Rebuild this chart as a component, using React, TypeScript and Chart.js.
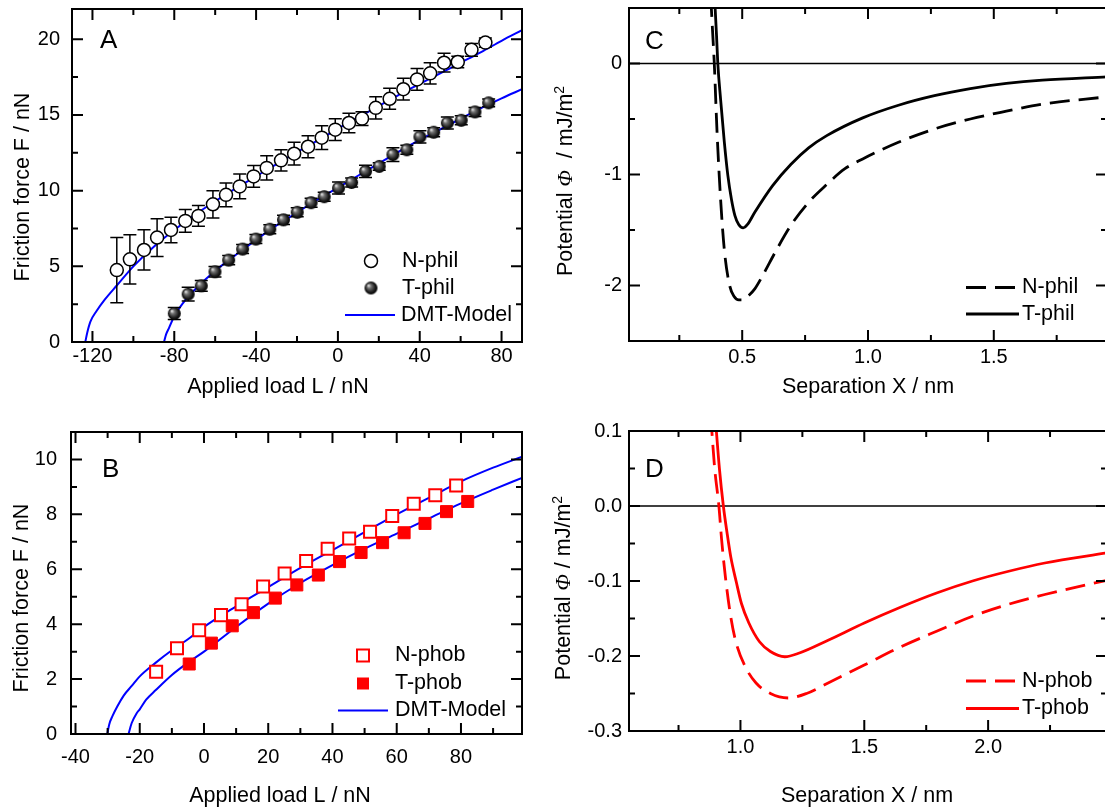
import React, { useEffect, useRef } from "react";
import { Chart, registerables } from "chart.js";

Chart.register(...registerables);

const SANS = "'Liberation Sans', Arial, Helvetica, sans-serif";
const SERIF = "'Liberation Serif', 'Times New Roman', serif";

// ---------------- Panel A (hydrophilic friction) ----------------
const aNphilLoad = [-108.1, -101.7, -94.8, -88.4, -81.6, -74.6, -68.2, -61.1, -54.7, -48.0, -41.2, -34.8, -27.8, -21.4, -14.6, -7.9, -1.3, 5.4, 11.8, 18.5, 25.3, 32.0, 38.7, 45.1, 51.9, 58.6, 65.3, 72.1];
const aNphilFriction = [4.75, 5.46, 6.08, 6.9, 7.4, 8.0, 8.33, 9.1, 9.72, 10.28, 10.94, 11.5, 12.0, 12.44, 12.9, 13.5, 14.03, 14.47, 14.76, 15.47, 16.07, 16.7, 17.35, 17.75, 18.45, 18.5, 19.3, 19.78];
const aNphilError = [2.15, 1.62, 1.33, 1.25, 0.85, 0.75, 0.68, 0.9, 0.78, 0.82, 0.72, 0.8, 0.7, 0.75, 0.72, 0.78, 0.72, 0.65, 0.45, 0.73, 0.7, 0.72, 0.72, 0.7, 0.62, 0.38, 0.42, 0.3];

const aTphilLoad = [-80.0, -73.2, -66.8, -60.1, -53.4, -46.6, -40.1, -33.3, -26.6, -19.9, -13.1, -6.7, 0.3, 6.7, 13.5, 20.2, 26.9, 33.7, 40.1, 46.8, 53.5, 60.3, 67.0, 73.7];
const aTphilFriction = [1.88, 3.16, 3.71, 4.64, 5.41, 6.14, 6.8, 7.45, 8.07, 8.57, 9.2, 9.6, 10.17, 10.54, 11.27, 11.6, 12.38, 12.7, 13.55, 13.86, 14.47, 14.65, 15.2, 15.8];
const aTphilError = [0.4, 0.45, 0.35, 0.35, 0.3, 0.3, 0.3, 0.3, 0.3, 0.3, 0.3, 0.3, 0.4, 0.3, 0.4, 0.25, 0.45, 0.3, 0.4, 0.3, 0.4, 0.3, 0.3, 0.25];

const aDmtNLoad = [-123.5, -122.5, -121, -118, -114, -108, -100, -90, -80, -70, -60, -50, -40, -30, -20, -10, 0, 10, 20, 30, 40, 50, 60, 70, 80, 90];
const aDmtNFriction = [0, 0.65, 1.35, 2.05, 2.8, 3.75, 5.0, 6.3, 7.4, 8.4, 9.3, 10.15, 10.95, 11.75, 12.55, 13.3, 14.1, 14.85, 15.6, 16.35, 17.05, 17.75, 18.45, 19.15, 19.9, 20.6];
const aDmtTLoad = [-85, -84, -82.5, -80, -75, -70, -60, -50, -40, -30, -20, -10, 0, 10, 20, 30, 40, 50, 60, 70, 80, 90];
const aDmtTFriction = [0, 0.5, 0.95, 1.7, 2.7, 3.45, 4.7, 5.75, 6.75, 7.7, 8.55, 9.4, 10.2, 11.0, 11.8, 12.6, 13.35, 14.05, 14.75, 15.45, 16.1, 16.7];

const aXTicks = [-120, -80, -40, 0, 40, 80];
const aYTicks = [0, 5, 10, 15, 20];

// ---------------- Panel B (hydrophobic friction) ----------------
const bNphobLoad = [-14.9, -8.4, -1.5, 5.3, 11.7, 18.4, 25.1, 31.8, 38.5, 45.2, 51.7, 58.6, 65.3, 72.0, 78.5];
const bNphobFriction = [2.27, 3.12, 3.78, 4.33, 4.73, 5.37, 5.85, 6.3, 6.75, 7.12, 7.37, 7.94, 8.39, 8.7, 9.05];
const bTphobLoad = [-4.6, 2.3, 8.8, 15.4, 22.2, 28.9, 35.6, 42.2, 48.9, 55.6, 62.3, 68.8, 75.5, 82.1];
const bTphobFriction = [2.55, 3.31, 3.94, 4.42, 4.95, 5.43, 5.79, 6.28, 6.61, 6.97, 7.33, 7.67, 8.1, 8.47];

const bDmtNLoad = [-30.1, -29.5, -28.5, -27, -25, -22.5, -20, -15, -10, -5, 0, 10, 20, 30, 40, 50, 60, 70, 80, 90, 99];
const bDmtNFriction = [0, 0.35, 0.65, 1.0, 1.4, 1.75, 2.1, 2.6, 3.05, 3.45, 3.9, 4.65, 5.35, 6.05, 6.7, 7.35, 8.0, 8.6, 9.2, 9.7, 10.1];
const bDmtTLoad = [-23.5, -22.5, -21, -20, -18, -15, -10, -5, 0, 10, 20, 30, 40, 50, 60, 70, 80, 90, 99];
const bDmtTFriction = [0, 0.4, 0.75, 0.9, 1.25, 1.6, 2.15, 2.6, 3.0, 3.9, 4.75, 5.5, 6.15, 6.75, 7.3, 7.85, 8.4, 8.9, 9.33];

const bXTicks = [-40, -20, 0, 20, 40, 60, 80];
const bYTicks = [0, 2, 4, 6, 8, 10];

// ---------------- Panel C (hydrophilic potential) ----------------
const cNphilSep = [0.375, 0.382, 0.389, 0.4, 0.414, 0.429, 0.45, 0.468, 0.486, 0.503, 0.521, 0.55, 0.579, 0.636, 0.693, 0.764, 0.836, 0.907, 0.979, 1.121, 1.264, 1.407, 1.55, 1.693, 1.95];
const cNphilPot = [0.6, 0.3, 0, -0.62, -1.22, -1.68, -2.0, -2.1, -2.13, -2.13, -2.1, -2.03, -1.92, -1.68, -1.46, -1.25, -1.09, -0.95, -0.86, -0.71, -0.59, -0.5, -0.43, -0.367, -0.3];
const cTphilSep = [0.39, 0.398, 0.403, 0.414, 0.429, 0.443, 0.457, 0.471, 0.486, 0.504, 0.521, 0.55, 0.621, 0.693, 0.764, 0.836, 0.979, 1.121, 1.264, 1.407, 1.55, 1.693, 1.95];
const cTphilPot = [0.6, 0.25, 0, -0.32, -0.71, -1.01, -1.22, -1.37, -1.45, -1.48, -1.45, -1.34, -1.1, -0.91, -0.76, -0.65, -0.49, -0.376, -0.29, -0.226, -0.18, -0.15, -0.12];

const cXTicks = [0.5, 1.0, 1.5];
const cYTicks = [-2, -1, 0];

// ---------------- Panel D (hydrophobic potential) ----------------
const dNphobSep = [0.88, 0.896, 0.913, 0.924, 0.939, 0.961, 0.983, 1.019, 1.063, 1.121, 1.194, 1.267, 1.354, 1.5, 1.646, 1.792, 1.937, 2.083, 2.229, 2.48];
const dNphobPot = [0.12, 0.05, 0, -0.045, -0.094, -0.148, -0.183, -0.214, -0.236, -0.25, -0.256, -0.25, -0.236, -0.212, -0.188, -0.167, -0.147, -0.131, -0.118, -0.099];
const dTphobSep = [0.898, 0.915, 0.931, 0.946, 0.961, 0.983, 1.004, 1.034, 1.077, 1.121, 1.179, 1.238, 1.354, 1.5, 1.646, 1.792, 1.937, 2.083, 2.229, 2.48];
const dTphobPot = [0.12, 0.05, 0, -0.036, -0.068, -0.101, -0.13, -0.156, -0.181, -0.194, -0.201, -0.196, -0.179, -0.156, -0.135, -0.116, -0.1, -0.087, -0.076, -0.0625];

const dXTicks = [1.0, 1.5, 2.0];
const dYTicks = [-0.3, -0.2, -0.1, 0, 0.1];

// ---------------- helpers ----------------
type Pt = { x: number; y: number };
const zip = (xs: number[], ys: number[]): Pt[] => xs.map((x, i) => ({ x, y: ys[i] }));
const intFmt = (v: number) => String(Math.round(v));
const oneFmt = (v: number) => v.toFixed(1);

const BLUE = "#0000ff";
const RED = "#ff0000";
const DASH = [20, 9];

function makeSphere(r: number): HTMLCanvasElement {
  const c = document.createElement("canvas");
  const s = Math.ceil(2 * r + 2);
  c.width = s;
  c.height = s;
  const g = c.getContext("2d")!;
  const cx = s / 2, cy = s / 2;
  const grad = g.createRadialGradient(cx - r * 0.4, cy - r * 0.4, r * 0.05, cx, cy, r);
  grad.addColorStop(0, "#e6e6e6");
  grad.addColorStop(0.3, "#707070");
  grad.addColorStop(0.75, "#1a1a1a");
  grad.addColorStop(1, "#000");
  g.fillStyle = grad;
  g.beginPath();
  g.arc(cx, cy, r, 0, Math.PI * 2);
  g.fill();
  return c;
}

type Seg = { text: string; font: string; dy?: number };
function drawRich(ctx: CanvasRenderingContext2D, segs: Seg[], cx: number, cy: number, rotate: boolean) {
  ctx.save();
  ctx.translate(cx, cy);
  if (rotate) ctx.rotate(-Math.PI / 2);
  ctx.textBaseline = "alphabetic";
  ctx.textAlign = "left";
  ctx.fillStyle = "#000";
  const widths = segs.map((s) => {
    ctx.font = s.font;
    return ctx.measureText(s.text).width;
  });
  const total = widths.reduce((a, b) => a + b, 0);
  let x = -total / 2;
  segs.forEach((s, i) => {
    ctx.font = s.font;
    ctx.fillText(s.text, x, s.dy || 0);
    x += widths[i];
  });
  ctx.restore();
}

type LegendItem = {
  kind: "circle" | "sphere" | "line" | "squareOpen" | "squareFill";
  x: number; x2?: number; y: number; tx: number; label: string;
  color?: string; width?: number; dash?: number[];
};

type Panel = {
  left: number; top: number; width: number; height: number;
  area: { l: number; t: number; r: number; b: number };
  xMin: number; xMax: number; xStep: number; xMinor: number; xTicks: number[];
  yMin: number; yMax: number; yStep: number; yMinor: number; yTicks: number[];
  xPad: number; yPad: number;
  xFmt: (v: number) => string; yFmt: (v: number) => string;
  letter: { text: string; x: number; y: number };
  xTitle: { segs: Seg[]; x: number; y: number };
  yTitle: { segs: Seg[]; x: number; y: number };
  legend: LegendItem[];
  datasets: (sphere: HTMLCanvasElement) => any[];
};

const T = (t: string): Seg[] => [{ text: t, font: `21.5px ${SANS}` }];

const PANELS: Panel[] = [
  {
    left: 0, top: 0, width: 540, height: 400,
    area: { l: 72, t: 9, r: 522, b: 342 },
    xMin: -130, xMax: 90, xStep: 40, xMinor: 20, xTicks: aXTicks,
    yMin: 0, yMax: 22, yStep: 5, yMinor: 2.5, yTicks: aYTicks,
    xPad: 2, yPad: 12, xFmt: intFmt, yFmt: intFmt,
    letter: { text: "A", x: 100, y: 48 },
    xTitle: { segs: T("Applied load L / nN"), x: 278, y: 393 },
    yTitle: { segs: T("Friction force F / nN"), x: 29.3, y: 187 },
    legend: [
      { kind: "circle", x: 371, y: 261, tx: 402, label: "N-phil" },
      { kind: "sphere", x: 371, y: 288, tx: 402, label: "T-phil" },
      { kind: "line", x: 345, x2: 395, y: 315, tx: 401, label: "DMT-Model", color: BLUE, width: 2 },
    ],
    datasets: (sphere) => [
      { label: "N-phil", data: zip(aNphilLoad, aNphilFriction), errors: aNphilError, showLine: false, pointStyle: "circle", pointRadius: 6.5, pointBorderWidth: 1.5, pointBorderColor: "#000", pointBackgroundColor: "#fff" },
      { label: "T-phil", data: zip(aTphilLoad, aTphilFriction), errors: aTphilError, showLine: false, pointStyle: sphere, pointRadius: 7 },
      { label: "DMT-Model N", data: zip(aDmtNLoad, aDmtNFriction), showLine: true, pointRadius: 0, borderColor: BLUE, borderWidth: 2, cubicInterpolationMode: "monotone" },
      { label: "DMT-Model T", data: zip(aDmtTLoad, aDmtTFriction), showLine: true, pointRadius: 0, borderColor: BLUE, borderWidth: 2, cubicInterpolationMode: "monotone" },
    ],
  },
  {
    left: 0, top: 400, width: 540, height: 408,
    area: { l: 71, t: 432, r: 522, b: 734 },
    xMin: -41.4, xMax: 99, xStep: 20, xMinor: 10, xTicks: bXTicks,
    yMin: 0, yMax: 11, yStep: 2, yMinor: 1, yTicks: bYTicks,
    xPad: 11, yPad: 14, xFmt: intFmt, yFmt: intFmt,
    letter: { text: "B", x: 102, y: 477 },
    xTitle: { segs: T("Applied load L / nN"), x: 280, y: 802 },
    yTitle: { segs: T("Friction force F / nN"), x: 27.6, y: 598 },
    legend: [
      { kind: "squareOpen", x: 363, y: 655.5, tx: 395, label: "N-phob" },
      { kind: "squareFill", x: 363, y: 683.5, tx: 395, label: "T-phob" },
      { kind: "line", x: 338, x2: 388, y: 710.5, tx: 395, label: "DMT-Model", color: BLUE, width: 2 },
    ],
    datasets: () => [
      { label: "N-phob", data: zip(bNphobLoad, bNphobFriction), showLine: false, pointStyle: "rect", pointRadius: 8.5, pointBorderWidth: 2, pointBorderColor: RED, pointBackgroundColor: "#fff" },
      { label: "T-phob", data: zip(bTphobLoad, bTphobFriction), showLine: false, pointStyle: "rect", pointRadius: 8.5, pointBorderWidth: 1, pointBorderColor: RED, pointBackgroundColor: RED },
      { label: "DMT-Model N", data: zip(bDmtNLoad, bDmtNFriction), showLine: true, pointRadius: 0, borderColor: BLUE, borderWidth: 2, cubicInterpolationMode: "monotone" },
      { label: "DMT-Model T", data: zip(bDmtTLoad, bDmtTFriction), showLine: true, pointRadius: 0, borderColor: BLUE, borderWidth: 2, cubicInterpolationMode: "monotone" },
    ],
  },
  {
    left: 540, top: 0, width: 600, height: 400,
    area: { l: 629, t: 8, r: 1107, b: 341 },
    xMin: 0.05, xMax: 1.95, xStep: 0.5, xMinor: 0.25, xTicks: cXTicks,
    yMin: -2.5, yMax: 0.5, yStep: 1, yMinor: 0.5, yTicks: cYTicks,
    xPad: 4, yPad: 7, xFmt: oneFmt, yFmt: intFmt,
    letter: { text: "C", x: 645, y: 49 },
    xTitle: { segs: T("Separation X / nm"), x: 868, y: 393.4 },
    yTitle: {
      segs: [
        { text: "Potential ", font: `21.5px ${SANS}` },
        { text: "Φ", font: `italic 21.5px ${SERIF}` },
        { text: "  / mJ/m", font: `21.5px ${SANS}` },
        { text: "2", font: `14px ${SANS}`, dy: -8 },
      ],
      x: 571.5, y: 181,
    },
    legend: [
      { kind: "line", x: 966, x2: 1016, y: 287.5, tx: 1022, label: "N-phil", color: "#000", width: 2.8, dash: DASH },
      { kind: "line", x: 966, x2: 1019, y: 314, tx: 1022, label: "T-phil", color: "#000", width: 2.8 },
    ],
    datasets: () => [
      { label: "N-phil", data: zip(cNphilSep, cNphilPot), showLine: true, pointRadius: 0, borderColor: "#000", borderWidth: 2.8, borderDash: DASH, cubicInterpolationMode: "monotone" },
      { label: "T-phil", data: zip(cTphilSep, cTphilPot), showLine: true, pointRadius: 0, borderColor: "#000", borderWidth: 2.8, cubicInterpolationMode: "monotone" },
      { label: "zero", data: [{ x: 0.05, y: 0 }, { x: 1.95, y: 0 }], showLine: true, pointRadius: 0, borderColor: "#000", borderWidth: 1.5 },
    ],
  },
  {
    left: 540, top: 400, width: 600, height: 408,
    area: { l: 629, t: 431, r: 1107, b: 731 },
    xMin: 0.55, xMax: 2.48, xStep: 0.5, xMinor: 0.25, xTicks: dXTicks,
    yMin: -0.3, yMax: 0.1, yStep: 0.1, yMinor: 0.05, yTicks: dYTicks,
    xPad: 4, yPad: 7, xFmt: oneFmt, yFmt: oneFmt,
    letter: { text: "D", x: 645, y: 477 },
    xTitle: { segs: T("Separation X / nm"), x: 867, y: 802.4 },
    yTitle: {
      segs: [
        { text: "Potential ", font: `21.5px ${SANS}` },
        { text: "Φ", font: `italic 21.5px ${SERIF}` },
        { text: " / mJ/m", font: `21.5px ${SANS}` },
        { text: "2", font: `14px ${SANS}`, dy: -8 },
      ],
      x: 570, y: 588,
    },
    legend: [
      { kind: "line", x: 966, x2: 1016, y: 681, tx: 1022, label: "N-phob", color: RED, width: 2.8, dash: DASH },
      { kind: "line", x: 966, x2: 1019, y: 708.5, tx: 1022, label: "T-phob", color: RED, width: 2.8 },
    ],
    datasets: () => [
      { label: "N-phob", data: zip(dNphobSep, dNphobPot), showLine: true, pointRadius: 0, borderColor: RED, borderWidth: 2.8, borderDash: DASH, cubicInterpolationMode: "monotone" },
      { label: "T-phob", data: zip(dTphobSep, dTphobPot), showLine: true, pointRadius: 0, borderColor: RED, borderWidth: 2.8, cubicInterpolationMode: "monotone" },
      { label: "zero", data: [{ x: 0.55, y: 0 }, { x: 2.48, y: 0 }], showLine: true, pointRadius: 0, borderColor: "#000", borderWidth: 1.5 },
    ],
  },
];

const errorBarPlugin = {
  id: "errorBars",
  beforeDatasetDraw(chart: any, args: any) {
    const ds = chart.data.datasets[args.index];
    const errs: number[] | undefined = ds.errors;
    if (!errs) return;
    const xs = chart.scales.x, ys = chart.scales.y;
    const ctx: CanvasRenderingContext2D = chart.ctx;
    ctx.save();
    ctx.strokeStyle = "#000";
    ctx.lineWidth = 1.5;
    ctx.beginPath();
    ds.data.forEach((pt: Pt, i: number) => {
      const px = xs.getPixelForValue(pt.x);
      const top = ys.getPixelForValue(pt.y + errs[i]);
      const bot = ys.getPixelForValue(pt.y - errs[i]);
      ctx.moveTo(px, top); ctx.lineTo(px, bot);
      ctx.moveTo(px - 6.5, top); ctx.lineTo(px + 6.5, top);
      ctx.moveTo(px - 6.5, bot); ctx.lineTo(px + 6.5, bot);
    });
    ctx.stroke();
    ctx.restore();
  },
};

function framePlugin(p: Panel) {
  return {
    id: "frame",
    afterDatasetsDraw(chart: any) {
      const ctx: CanvasRenderingContext2D = chart.ctx;
      const ca = chart.chartArea;
      const xs = chart.scales.x, ys = chart.scales.y;
      const MAJ = 11, MIN = 6;
      ctx.save();
      ctx.strokeStyle = "#000";
      ctx.lineWidth = 2;
      ctx.beginPath();
      const isMajor = (v: number, step: number) => Math.abs(v / step - Math.round(v / step)) < 1e-6;
      for (let k = Math.ceil(p.xMin / p.xMinor - 1e-9); k * p.xMinor <= p.xMax + 1e-9; k++) {
        const v = k * p.xMinor;
        const len = isMajor(v, p.xStep) ? MAJ : MIN;
        const px = xs.getPixelForValue(v);
        ctx.moveTo(px, ca.bottom); ctx.lineTo(px, ca.bottom - len);
        ctx.moveTo(px, ca.top); ctx.lineTo(px, ca.top + len);
      }
      for (let k = Math.ceil(p.yMin / p.yMinor - 1e-9); k * p.yMinor <= p.yMax + 1e-9; k++) {
        const v = k * p.yMinor;
        const len = isMajor(v, p.yStep) ? MAJ : MIN;
        const py = ys.getPixelForValue(v);
        ctx.moveTo(ca.left, py); ctx.lineTo(ca.left + len, py);
        ctx.moveTo(ca.right, py); ctx.lineTo(ca.right - len, py);
      }
      ctx.stroke();
      ctx.strokeRect(ca.left, ca.top, ca.right - ca.left, ca.bottom - ca.top);
      ctx.restore();
    },
  };
}

function decorPlugin(p: Panel, sphere: HTMLCanvasElement) {
  return {
    id: "decor",
    afterDraw(chart: any) {
      const ctx: CanvasRenderingContext2D = chart.ctx;
      const ox = p.left, oy = p.top;
      ctx.save();
      ctx.fillStyle = "#000";
      ctx.font = `26px ${SANS}`;
      ctx.textAlign = "left";
      ctx.textBaseline = "alphabetic";
      ctx.fillText(p.letter.text, p.letter.x - ox, p.letter.y - oy);
      ctx.restore();

      drawRich(ctx, p.xTitle.segs, p.xTitle.x - ox, p.xTitle.y - oy, false);
      drawRich(ctx, p.yTitle.segs, p.yTitle.x - ox, p.yTitle.y - oy, true);

      p.legend.forEach((it) => {
        const x = it.x - ox, y = it.y - oy;
        ctx.save();
        if (it.kind === "circle") {
          ctx.beginPath();
          ctx.arc(x, y, 6.5, 0, Math.PI * 2);
          ctx.fillStyle = "#fff";
          ctx.fill();
          ctx.lineWidth = 1.5;
          ctx.strokeStyle = "#000";
          ctx.stroke();
        } else if (it.kind === "sphere") {
          ctx.drawImage(sphere, x - sphere.width / 2, y - sphere.height / 2);
        } else if (it.kind === "squareOpen") {
          ctx.fillStyle = "#fff";
          ctx.fillRect(x - 6, y - 6, 12, 12);
          ctx.strokeStyle = RED;
          ctx.lineWidth = 2;
          ctx.strokeRect(x - 6, y - 6, 12, 12);
        } else if (it.kind === "squareFill") {
          ctx.fillStyle = RED;
          ctx.fillRect(x - 6, y - 6, 12, 12);
        } else {
          ctx.strokeStyle = it.color || "#000";
          ctx.lineWidth = it.width || 2;
          ctx.setLineDash(it.dash || []);
          ctx.beginPath();
          ctx.moveTo(x, y);
          ctx.lineTo((it.x2 || it.x) - ox, y);
          ctx.stroke();
        }
        ctx.restore();
        ctx.save();
        ctx.fillStyle = "#000";
        ctx.font = `21.5px ${SANS}`;
        ctx.textAlign = "left";
        ctx.textBaseline = "middle";
        ctx.fillText(it.label, it.tx - ox, y);
        ctx.restore();
      });
    },
  };
}

function makeConfig(p: Panel, sphere: HTMLCanvasElement): any {
  const a = p.area;
  const tickFont = { family: SANS, size: 20 };
  const zeroPad = (s: any) => {
    s.paddingTop = 0;
    s.paddingBottom = 0;
    s.paddingLeft = 0;
    s.paddingRight = 0;
  };
  return {
    type: "scatter",
    data: { datasets: p.datasets(sphere) },
    options: {
      responsive: false,
      maintainAspectRatio: false,
      animation: false,
      events: [],
      layout: { padding: { left: 0, top: a.t - p.top, right: p.left + p.width - a.r, bottom: 0 } },
      plugins: { legend: { display: false }, tooltip: { enabled: false }, title: { display: false } },
      scales: {
        x: {
          type: "linear",
          position: "bottom",
          bounds: "data",
          min: p.xMin,
          max: p.xMax,
          grid: { display: false, drawTicks: false },
          border: { display: false },
          ticks: {
            autoSkip: false, maxRotation: 0, minRotation: 0,
            padding: p.xPad, color: "#000", font: tickFont,
            callback: (v: any) => p.xFmt(Number(v)),
          },
          afterBuildTicks: (s: any) => { s.ticks = p.xTicks.map((v) => ({ value: v })); },
          afterFit: (s: any) => { s.height = p.top + p.height - a.b; zeroPad(s); },
        },
        y: {
          type: "linear",
          position: "left",
          bounds: "data",
          min: p.yMin,
          max: p.yMax,
          grid: { display: false, drawTicks: false },
          border: { display: false },
          ticks: {
            autoSkip: false,
            padding: p.yPad, color: "#000", font: tickFont,
            callback: (v: any) => p.yFmt(Number(v)),
          },
          afterBuildTicks: (s: any) => { s.ticks = p.yTicks.map((v) => ({ value: v })); },
          afterFit: (s: any) => { s.width = a.l - p.left; zeroPad(s); },
        },
      },
    },
    plugins: [errorBarPlugin, framePlugin(p), decorPlugin(p, sphere)],
  };
}

export default function App() {
  const wrap = useRef<HTMLDivElement>(null);
  useEffect(() => {
    const canvases = wrap.current!.querySelectorAll("canvas");
    const sphere = makeSphere(6.5);
    const charts = PANELS.map((p, i) => new Chart(canvases[i] as HTMLCanvasElement, makeConfig(p, sphere)));
    return () => charts.forEach((c) => c.destroy());
  }, []);
  return (
    <div
      ref={wrap}
      style={{ position: "fixed", left: 0, top: 0, width: 1105, height: 808, overflow: "hidden", background: "#fff" }}
    >
      {PANELS.map((p, i) => (
        <canvas
          key={i}
          width={p.width}
          height={p.height}
          style={{ position: "absolute", left: p.left, top: p.top, width: p.width, height: p.height, display: "block" }}
        />
      ))}
    </div>
  );
}
